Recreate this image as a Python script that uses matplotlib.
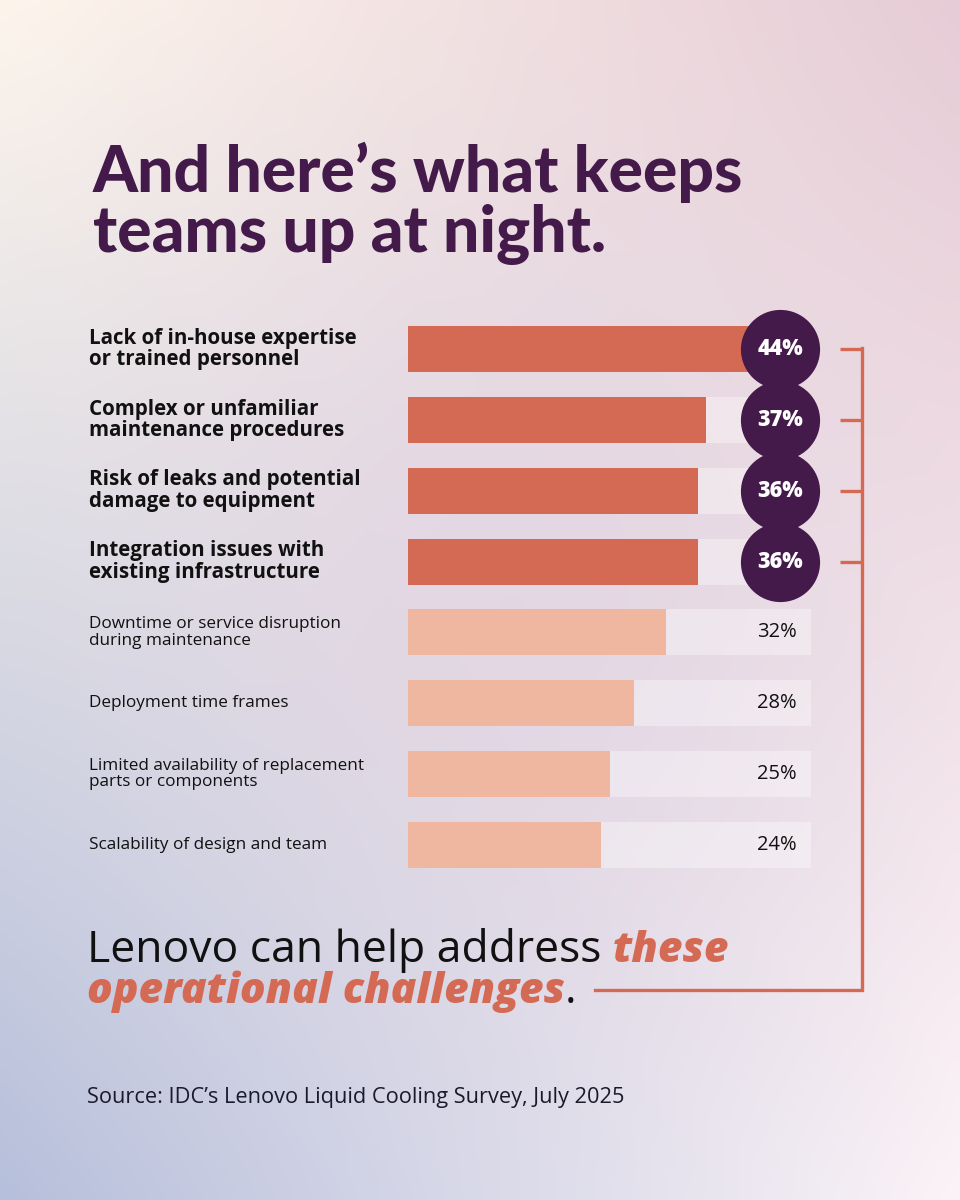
import numpy as np
import matplotlib.pyplot as plt
from matplotlib.transforms import blended_transform_factory

# data
labels = [
    "Lack of in-house expertise\nor trained personnel",
    "Complex or unfamiliar\nmaintenance procedures",
    "Risk of leaks and potential\ndamage to equipment",
    "Integration issues with\nexisting infrastructure",
    "Downtime or service disruption\nduring maintenance",
    "Deployment time frames",
    "Limited availability of replacement\nparts or components",
    "Scalability of design and team",
]
values = [44, 37, 36, 36, 32, 28, 25, 24]
n_top = 4  # highlighted challenges

title_lines = ["And here\u2019s what keeps", "teams up at night."]
source = "Source: IDC\u2019s Lenovo Liquid Cooling Survey, July 2025"

PURPLE = "#431a4a"
ORANGE = "#d56a54"
PEACH = "#efb6a0"
TFONT = "Lato"
BFONT = "Open Sans"

W, H = 960, 1200
fig = plt.figure(figsize=(W / 100, H / 100), dpi=100)


def rgb(h):
    h = h.lstrip("#")
    return np.array([int(h[i:i + 2], 16) for i in (0, 2, 4)]) / 255.0


# gradient background
bg = fig.add_axes([0, 0, 1, 1])
yy, xx = np.mgrid[0:1:300j, 0:1:240j]
xx, yy = xx[..., None], yy[..., None]
tl, tr, bl, br = rgb("#fdf5ec"), rgb("#e6ccd6"), rgb("#b6bfdb"), rgb("#fbf3f7")
img = tl * (1 - xx) * (1 - yy) + tr * xx * (1 - yy) + bl * (1 - xx) * yy + br * xx * yy
w = np.exp(-(((xx - 0.55) * 0.9) ** 2 + (yy - 0.5) ** 2) / 0.07)
img = img * (1 - 0.6 * w) + rgb("#e1d3e2") * 0.6 * w
bg.imshow(img, extent=[0, W, H, 0], aspect="auto", interpolation="bicubic")
bg.set_xlim(0, W)
bg.set_ylim(H, 0)
bg.axis("off")

# title
for yb, line in zip([192, 252], title_lines):
    bg.text(93, yb, line, fontsize=46.3, fontweight="black", family=TFONT,
            color=PURPLE, va="baseline")

# bar layout
row0, pitch = 349, 70.86
n = len(values)
y = np.arange(n)
top_px = row0 - pitch / 2
bot_px = row0 + pitch * (n - 1) + pitch / 2
ax = fig.add_axes([408 / W, 1 - bot_px / H, 403 / W, (bot_px - top_px) / H])
ax.set_xlim(0, 50)
ax.set_ylim(n - 0.5, -0.5)
ax.axis("off")

ax.barh(y, [50] * n, height=0.65, color="white", alpha=0.35, zorder=1)
colors = [ORANGE if i < n_top else PEACH for i in range(n)]
ax.barh(y, values, height=0.65, color=colors, zorder=2)

trans = blended_transform_factory(ax.transAxes, ax.transData)
cx = (780 - 408) / 403
ax.plot([cx] * n_top, y[:n_top], "o", ms=57, color=PURPLE, mec="none",
        transform=trans, clip_on=False, zorder=3)
for i in range(n):
    txt = f"{values[i]}%"
    if i < n_top:
        ax.text(cx, i, txt, transform=trans, ha="center", va="center",
                color="white", fontsize=15.5, fontweight="heavy", family=BFONT,
                zorder=4)
    else:
        ax.text((797 - 408) / 403, i, txt, transform=trans, ha="right",
                va="center", color="#111111", fontsize=14.5, family=BFONT,
                zorder=4)

# category labels
for i, lab in enumerate(labels):
    yc = row0 + pitch * i
    if i < n_top:
        bg.text(89, yc, lab, fontsize=14.8, fontweight="bold", family=BFONT,
                color="#111111", va="center", linespacing=1.03)
    else:
        bg.text(89, yc, lab, fontsize=12.3, family=BFONT, color="#111111",
                va="center", linespacing=1.05)

# bracket
bx = 862
for i in range(n_top):
    yc = row0 + pitch * i
    bg.plot([840, bx], [yc, yc], color=ORANGE, lw=2.4, solid_capstyle="butt")
bg.plot([bx, bx, 595], [row0 - 1, 990, 990], color=ORANGE, lw=2.4,
        solid_joinstyle="miter")

# closing statement
fig.canvas.draw()
r = fig.canvas.get_renderer()


def chain(x, yb, parts):
    for s, style in parts:
        if style == "plain":
            t = bg.text(x, yb, s, fontsize=32, family=BFONT, color="#111111",
                        va="baseline")
        else:
            t = bg.text(x, yb, s, fontsize=30.6, family=BFONT, color=ORANGE,
                        fontweight="heavy", style="italic", va="baseline")
        x = t.get_window_extent(r).x1


chain(87, 962, [("Lenovo can help address ", "plain"), ("these", "em")])
chain(87, 1003, [("operational challenges", "em"), (".", "plain")])

bg.text(87, 1103, source, fontsize=15.7, family=BFONT, color="#1a1a2a",
        va="baseline")

fig.savefig("out.png", dpi=100)
